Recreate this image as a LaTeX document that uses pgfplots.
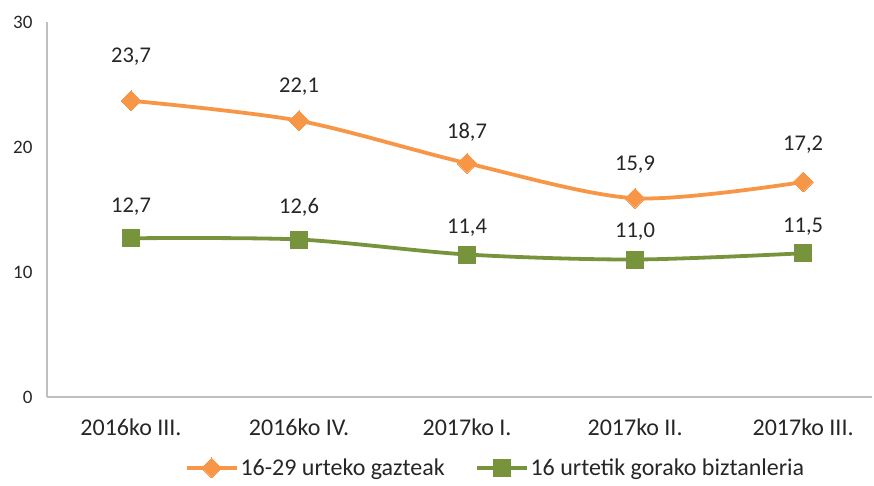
\documentclass[border=0pt]{standalone}
\usepackage{pgfplots}
\pgfplotsset{compat=1.18}
\usepackage{fontspec}
\setmainfont{Carlito}
\definecolor{orng}{HTML}{F79646}
\definecolor{grn}{HTML}{77933C}
\definecolor{axgray}{HTML}{BFBFBF}
\definecolor{txt}{HTML}{262626}
\begin{document}
\begin{tikzpicture}
\begin{axis}[
  name=ax,
  scale only axis,
  width=825pt, height=375pt,
  xmin=-0.5, xmax=4.41,
  ymin=0, ymax=30,
  ytick={0,10,20,30},
  xtick={0,1,2,3,4},
  xticklabels={2016ko III.,2016ko IV.,2017ko I.,2017ko II.,2017ko III.},
  axis x line*=bottom, axis y line*=left,
  axis line style={axgray, line width=1.2pt, -},
  major tick length=0pt,
  tick label style={text=txt},
  yticklabel style={font=\fontsize{19}{22}\selectfont, xshift=-11pt},
  xticklabel style={font=\fontsize{24}{28}\selectfont, anchor=base, yshift=-38pt},
  /pgf/number format/assume math mode=true,
  clip=false,
  nodes near coords,
  point meta=explicit symbolic,
  visualization depends on={\thisrow{off}\as\off},
  every node near coord/.style={font=\fontsize{22.5}{26}\selectfont, text=txt, anchor=base, yshift=\off pt, inner sep=0pt},
  legend columns=2,
  legend style={draw=none, fill=none, at={(0.5436,-0.189)}, anchor=center,
    font=\fontsize{24}{28}\selectfont, text=txt,
    /tikz/every even column/.append style={column sep=28pt},
    nodes={inner sep=2pt}},
  legend image code/.code={\draw[mark repeat=2,mark phase=2] plot coordinates {(0pt,0pt)(25pt,0pt)(50pt,0pt)};},
]
\addplot[orng, line width=3.8pt, smooth, mark=square*, mark size=7pt, mark options={rotate=45, line width=0pt}]
  table[x=x, y=y, meta=lab] {
x y lab off
0 23.7 23,7 38
1 22.1 22,1 28
2 18.7 18,7 25
3 15.9 15,9 28
4 17.2 17,2 32
};
\addlegendentry{16-29 urteko gazteak}
\addplot[grn, line width=3.8pt, smooth, mark=square*, mark size=8.5pt, mark options={line width=0pt}]
  table[x=x, y=y, meta=lab] {
x y lab off
0 12.7 12,7 26
1 12.6 12,6 26
2 11.4 11,4 21
3 11.0 11,0 22
4 11.5 11,5 21
};
\addlegendentry{16 urtetik gorako biztanleria}
\end{axis}
\path[use as bounding box] ([xshift=-47pt,yshift=-88pt]ax.south west) rectangle ([xshift=2pt,yshift=22pt]ax.north east);
\end{tikzpicture}
\end{document}
